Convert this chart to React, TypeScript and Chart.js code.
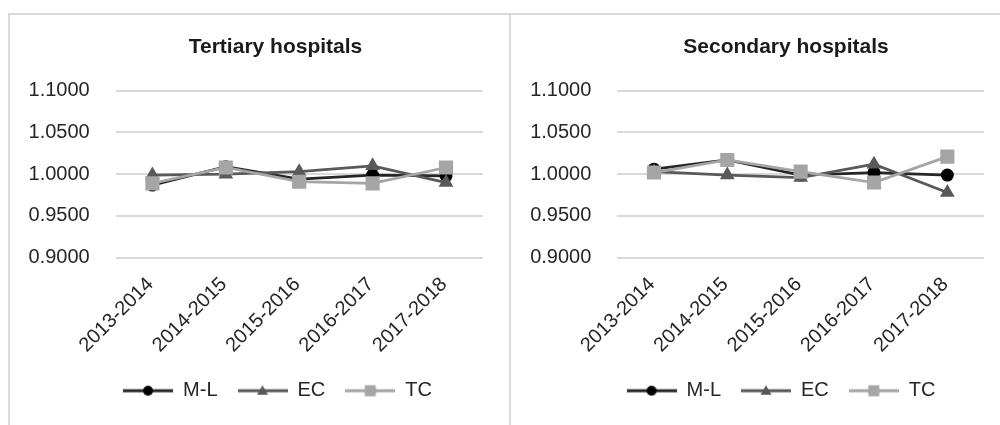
import React, { useEffect, useRef } from 'react';
import { Chart, registerables } from 'chart.js';

Chart.register(...registerables);

// ---- Data ----
const categories = ['2013-2014', '2014-2015', '2015-2016', '2016-2017', '2017-2018'];
const seriesNames = ['M-L', 'EC', 'TC'];
const yTickValues = [0.9, 0.95, 1.0, 1.05, 1.1];

const tertiaryTitle = 'Tertiary hospitals';
const tertiaryML = [0.987, 1.009, 0.994, 0.999, 0.998];
const tertiaryEC = [0.999, 1.0, 1.003, 1.01, 0.99];
const tertiaryTC = [0.989, 1.008, 0.991, 0.989, 1.008];

const secondaryTitle = 'Secondary hospitals';
const secondaryML = [1.006, 1.017, 0.999, 1.002, 0.999];
const secondaryEC = [1.003, 0.999, 0.996, 1.012, 0.978];
const secondaryTC = [1.002, 1.017, 1.003, 0.99, 1.021];

// ---- Styles ----
const FONT = '"Liberation Sans", Arial, Helvetica, sans-serif';
const TEXT_COLOR = '#262626';
const GRID_COLOR = '#d9d9d9';
const ML_LINE = '#262626';
const ML_MARK = '#000000';
const EC_COLOR = '#595959';
const TC_COLOR = '#a5a5a5';

function makeLegendIcon(kind: string, lineColor: string, markColor: string) {
  const c = document.createElement('canvas');
  c.width = 50;
  c.height = 20;
  const ctx = c.getContext('2d')!;
  ctx.strokeStyle = lineColor;
  ctx.lineWidth = 3;
  ctx.beginPath();
  ctx.moveTo(0, 10);
  ctx.lineTo(50, 10);
  ctx.stroke();
  ctx.fillStyle = markColor;
  ctx.beginPath();
  if (kind === 'circle') {
    ctx.arc(25, 10, 5, 0, Math.PI * 2);
  } else if (kind === 'triangle') {
    ctx.moveTo(25, 4.5);
    ctx.lineTo(30.5, 14);
    ctx.lineTo(19.5, 14);
    ctx.closePath();
  } else {
    ctx.rect(19.5, 4.5, 11, 11);
  }
  ctx.fill();
  return c;
}

// Re-centres title and legend horizontally (Excel centres them on its own box)
const centerShift = {
  id: 'centerShift',
  afterLayout(chart: any, _args: any, opts: any) {
    const t = chart.titleBlock;
    if (t && opts.title != null) {
      const d = opts.title - (t.left + t.right) / 2;
      t.left += d;
      t.right += d;
    }
    const l = chart.legend;
    if (l && opts.legend != null) {
      const d = opts.legend - (l.left + l.right) / 2;
      l.left += d;
      l.right += d;
    }
  },
};

type PanelProps = {
  title: string;
  ml: number[];
  ec: number[];
  tc: number[];
  left: number;
  width: number;
  padLeft: number;
  padRight: number;
  axisWidth: number;
  titleCenter: number;
  legendCenter: number;
};

function HospitalChart(props: PanelProps) {
  const ref = useRef<HTMLCanvasElement>(null);
  const { title, ml, ec, tc, left, width, padLeft, padRight, axisWidth, titleCenter, legendCenter } = props;

  useEffect(() => {
    if (!ref.current) return;
    const icons = [
      makeLegendIcon('circle', ML_LINE, ML_MARK),
      makeLegendIcon('triangle', EC_COLOR, EC_COLOR),
      makeLegendIcon('rect', TC_COLOR, TC_COLOR),
    ];
    const tickFont = { size: 20, family: FONT };
    const chart = new Chart(ref.current, {
      type: 'line',
      plugins: [centerShift],
      data: {
        labels: categories,
        datasets: [
          {
            label: seriesNames[0],
            data: ml,
            borderColor: ML_LINE,
            backgroundColor: ML_MARK,
            borderWidth: 2.75,
            pointStyle: 'circle',
            pointRadius: 6.5,
            pointBackgroundColor: ML_MARK,
            pointBorderColor: ML_MARK,
            pointBorderWidth: 0,
            tension: 0,
            order: 3,
          },
          {
            label: seriesNames[1],
            data: ec,
            borderColor: EC_COLOR,
            backgroundColor: EC_COLOR,
            borderWidth: 2.75,
            pointStyle: 'triangle',
            pointRadius: 8.5,
            pointBackgroundColor: EC_COLOR,
            pointBorderColor: EC_COLOR,
            pointBorderWidth: 0,
            tension: 0,
            order: 2,
          },
          {
            label: seriesNames[2],
            data: tc,
            borderColor: TC_COLOR,
            backgroundColor: TC_COLOR,
            borderWidth: 2.75,
            pointStyle: 'rect',
            pointRadius: 10,
            pointBackgroundColor: TC_COLOR,
            pointBorderColor: TC_COLOR,
            pointBorderWidth: 0,
            tension: 0,
            order: 1,
          },
        ],
      },
      options: {
        responsive: false,
        animation: false,
        devicePixelRatio: 1,
        events: [],
        layout: { padding: { left: padLeft, right: padRight, top: 0, bottom: 14.3 } },
        plugins: {
          centerShift: { title: titleCenter, legend: legendCenter },
          title: {
            display: true,
            text: title,
            color: '#1a1a1a',
            font: { size: 21, weight: 'bold', family: FONT },
            padding: { top: 19.5, bottom: 31 },
          },
          legend: {
            position: 'bottom',
            labels: {
              usePointStyle: true,
              pointStyleWidth: 50,
              padding: 20,
              color: TEXT_COLOR,
              font: { size: 20, family: FONT },
              generateLabels: () =>
                seriesNames.map((name, i) => ({
                  text: name,
                  pointStyle: icons[i] as any,
                  fillStyle: 'transparent',
                  strokeStyle: 'transparent',
                  lineWidth: 0,
                  hidden: false,
                  datasetIndex: i,
                  fontColor: TEXT_COLOR,
                })),
            },
          },
          tooltip: { enabled: false },
        },
        scales: {
          x: {
            offset: true,
            grid: { display: false, drawTicks: false },
            border: { display: false },
            ticks: {
              autoSkip: false,
              minRotation: 45,
              maxRotation: 45,
              padding: 15,
              labelOffset: -2,
              color: TEXT_COLOR,
              font: tickFont,
            },
            afterFit: (s: any) => {
              s.height = 103;
            },
          },
          y: {
            min: 0.9,
            max: 1.1,
            grid: { color: GRID_COLOR, lineWidth: 2, drawTicks: false },
            border: { display: false },
            ticks: {
              padding: 26,
              color: TEXT_COLOR,
              font: tickFont,
              callback: (v: any) => Number(v).toFixed(4),
            },
            afterBuildTicks: (s: any) => {
              s.ticks = yTickValues.map((v) => ({ value: v }));
            },
            afterFit: (s: any) => {
              s.width = axisWidth;
            },
          },
        },
      } as any,
    });
    return () => chart.destroy();
  }, []);

  return (
    <canvas
      ref={ref}
      width={width}
      height={410}
      style={{ position: 'absolute', left, top: 15, width, height: 410 }}
    />
  );
}

export default function App() {
  return (
    <div
      style={{
        position: 'fixed',
        left: 0,
        top: 0,
        width: 1000,
        height: 425,
        overflow: 'hidden',
        background: '#ffffff',
      }}
    >
      <div
        style={{
          position: 'absolute',
          left: 8,
          top: 13,
          width: 503,
          height: 500,
          boxSizing: 'border-box',
          borderLeft: `2px solid ${GRID_COLOR}`,
          borderTop: `2px solid ${GRID_COLOR}`,
          borderRight: `2px solid ${GRID_COLOR}`,
        }}
      />
      <div
        style={{
          position: 'absolute',
          left: 511,
          top: 13,
          width: 600,
          height: 500,
          boxSizing: 'border-box',
          borderTop: `2px solid ${GRID_COLOR}`,
        }}
      />
      <HospitalChart
        title={tertiaryTitle}
        ml={tertiaryML}
        ec={tertiaryEC}
        tc={tertiaryTC}
        left={10}
        width={499}
        padLeft={10}
        padRight={26.3}
        axisWidth={95.7}
        titleCenter={265.5}
        legendCenter={267.5}
      />
      <HospitalChart
        title={secondaryTitle}
        ml={secondaryML}
        ec={secondaryEC}
        tc={secondaryTC}
        left={511}
        width={489}
        padLeft={10}
        padRight={16}
        axisWidth={96.3}
        titleCenter={275}
        legendCenter={270}
      />
    </div>
  );
}
